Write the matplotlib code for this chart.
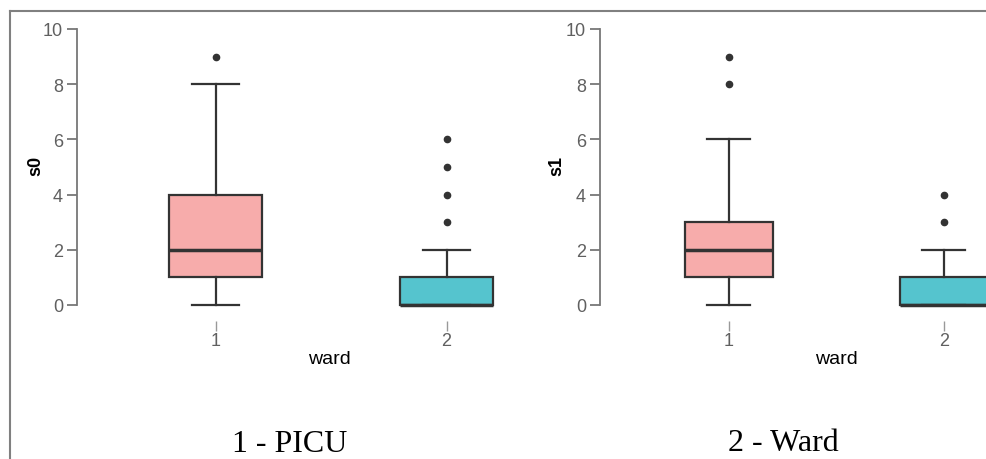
import matplotlib
matplotlib.use("Agg")
import matplotlib.pyplot as plt
from matplotlib.lines import Line2D

# box statistics (ward 1 = PICU, ward 2 = Ward)
wards = ["1", "2"]
s0_whislo = [0, 0]
s0_q1 = [1, 0]
s0_med = [2, 0]
s0_q3 = [4, 1]
s0_whishi = [8, 2]
s0_fliers = [[9], [3, 4, 5, 6]]

s1_whislo = [0, 0]
s1_q1 = [1, 0]
s1_med = [2, 0]
s1_q3 = [3, 1]
s1_whishi = [6, 2]
s1_fliers = [[8, 9], [3, 4]]

fill_colors = ["#F7ACAB", "#55C4CE"]
panel_titles = ["1 - PICU", "2 - Ward"]

EDGE = "#333333"
AXIS_GREY = "#777777"
TICK_GREY = "#606060"


def make_stats(whislo, q1, med, q3, whishi, fliers):
    stats = []
    for i in range(len(wards)):
        stats.append({
            "whislo": whislo[i], "q1": q1[i], "med": med[i],
            "q3": q3[i], "whishi": whishi[i], "fliers": fliers[i],
            "label": wards[i],
        })
    return stats


def draw_panel(ax, stats, ylabel, xlim, ylab_x, ward_x):
    bp = ax.bxp(
        stats, positions=[1, 2], widths=0.405, capwidths=0.2,
        patch_artist=True, showfliers=True,
        boxprops=dict(edgecolor=EDGE, linewidth=1.6),
        whiskerprops=dict(color=EDGE, linewidth=1.6),
        capprops=dict(color=EDGE, linewidth=1.6),
        medianprops=dict(color=EDGE, linewidth=2.5),
        flierprops=dict(marker="o", markersize=4.5, markerfacecolor=EDGE,
                        markeredgecolor=EDGE, linestyle="none"),
    )
    for patch, c in zip(bp["boxes"], fill_colors):
        patch.set_facecolor(c)
    for art in bp["boxes"] + bp["medians"] + bp["whiskers"] + bp["caps"] + bp["fliers"]:
        art.set_clip_on(False)

    ax.set_xlim(*xlim)
    ax.set_ylim(-0.5, 10.2)
    ax.set_yticks([0, 2, 4, 6, 8, 10])
    ax.set_xticks([1, 2])
    ax.set_xticklabels(wards)

    for side in ["top", "right"]:
        ax.spines[side].set_visible(False)
    ax.spines["left"].set_bounds(0, 10)
    ax.spines["left"].set_color(AXIS_GREY)
    ax.spines["left"].set_linewidth(1.3)
    ax.spines["bottom"].set_position(("outward", 1.5))
    ax.spines["bottom"].set_color("none")

    ax.tick_params(axis="y", direction="out", length=7, width=1.3,
                   color=AXIS_GREY, labelcolor=TICK_GREY, labelsize=13, pad=3)
    ax.tick_params(axis="x", direction="out", length=7, width=1.0,
                   color="#999999", labelcolor=TICK_GREY, labelsize=13, pad=1)

    ax.text(ylab_x, 0.52, ylabel, rotation=90, ha="center", va="center",
            fontsize=13, fontweight="bold", transform=ax.transAxes)
    ax.text(ward_x, -0.136, "ward", ha="center", va="center",
            fontsize=14, transform=ax.transAxes)


plt.rcParams["font.family"] = ["Liberation Sans", "DejaVu Sans"]

fig = plt.figure(figsize=(9.87, 4.6), dpi=100)
ax1 = fig.add_axes([0.078, 0.3048, 0.4797, 0.642])
ax2 = fig.add_axes([0.6079, 0.3048, 0.3921, 0.642])

draw_panel(ax1, make_stats(s0_whislo, s0_q1, s0_med, s0_q3, s0_whishi, s0_fliers),
           "s0", (0.4, 2.45), -0.087, 0.534)
draw_panel(ax2, make_stats(s1_whislo, s1_q1, s1_med, s1_q3, s1_whishi, s1_fliers),
           "s1", (0.4, 2.2), -0.111, 0.612)

fig.text(290 / 987, 1 - 452 / 460, panel_titles[0], ha="center", va="baseline",
         fontsize=23, family=["Liberation Serif", "DejaVu Serif"])
fig.text(783 / 987, 1 - 451 / 460, panel_titles[1], ha="center", va="baseline",
         fontsize=23, family=["Liberation Serif", "DejaVu Serif"])

# thin frame around the figure (left and top edges are visible in the source)
bx, by = 10 / 987, 1 - 12 / 460
fig.add_artist(Line2D([bx, bx], [0, by], transform=fig.transFigure,
                      color="#808080", linewidth=1.5))
fig.add_artist(Line2D([bx, 1], [by, by], transform=fig.transFigure,
                      color="#808080", linewidth=1.5))

fig.savefig("out.png", dpi=100)
